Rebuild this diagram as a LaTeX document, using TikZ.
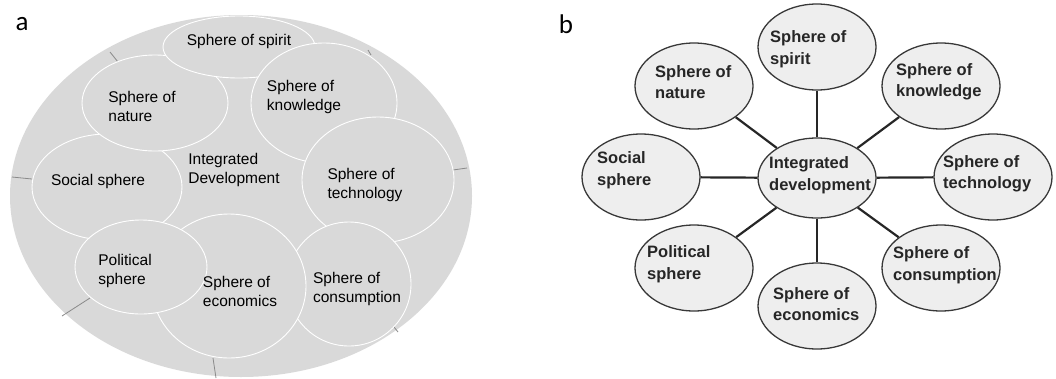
\documentclass[tikz,border=0pt]{standalone}
\usepackage{fontspec}
\setmainfont{Liberation Sans}
\newfontfamily\tagfont{Carlito}
\usetikzlibrary{positioning,shapes}
\definecolor{agray}{HTML}{D9D9D9}
\definecolor{bgray}{HTML}{EEEEEE}
\definecolor{tickgray}{HTML}{8A8A8A}
\tikzstyle{ring}=[ellipse,fill=agray,draw=white,line width=0.9pt,inner sep=0pt]
\tikzstyle{bubble}=[ellipse,fill=bgray,draw=black!78,line width=1.3pt,inner sep=0pt]
\tikzstyle{atext}=[align=left,inner sep=0pt,text=black,font=\fontsize{15.5}{19}\selectfont]
\tikzstyle{btext}=[align=left,inner sep=0pt,text=black!85,font=\fontsize{16.5}{21.5}\selectfont\bfseries]
\tikzstyle{tag}=[inner sep=0pt,font=\tagfont\fontsize{27}{30}\selectfont]
\tikzstyle{spoke}=[draw=black!85,line width=2.2pt]
\newcommand{\newRing}[4]{\node[ring,minimum width=#3,minimum height=#4](#1) at (#2) {};}
\newcommand{\newBubble}[2]{\node[bubble,minimum width=118pt,minimum height=86pt](#1) at (#2) {};}
\newcommand{\newSpoke}[2]{\path[spoke] (#1) -- (#2);}

\begin{document}
\begin{tikzpicture}[x=1pt,y=-1pt]
      \useasboundingbox (0,0) rectangle (1056,378);
      % a: nested spheres
      \node[tag] (taga) at (22,24) {a};
      \node[ellipse,fill=agray,minimum width=462pt,minimum height=362pt,inner sep=0pt] (whole) at (241,196) {};
      \path[draw=tickgray,line width=0.8pt] (110,52) -- (118,62);
      \path[draw=tickgray,line width=0.8pt] (368,50) -- (371,55);
      \path[draw=tickgray,line width=0.8pt] (12,177) -- (32,179);
      \path[draw=tickgray,line width=0.8pt] (453,170) -- (467,168);
      \path[draw=tickgray,line width=0.8pt] (62,316) -- (90,298);
      \path[draw=tickgray,line width=0.8pt] (213,358) -- (216,378);
      \path[draw=tickgray,line width=0.8pt] (390,322) -- (398,332);
      \newRing{asocial}{107,187}{150pt}{106pt}
      \newRing{anature}{155,103}{146pt}{96pt}
      \newRing{aspirit}{239,47}{152pt}{62pt}
      \newRing{aknow}{324,103}{146pt}{120pt}
      \newRing{atech}{378,180}{152pt}{126pt}
      \newRing{acons}{349,284}{124pt}{124pt}
      \newRing{aecon}{229,286}{154pt}{144pt}
      \newRing{apol}{141,267}{132pt}{94pt}
      \node[atext] (aspirit-t) at (239,41) {Sphere of spirit};
      \node[atext] (anature-t) at (142,106) {Sphere of\\nature};
      \node[atext] (aknow-t) at (304,97) {Sphere of\\knowledge};
      \node[atext] (asocial-t) at (98,181) {Social sphere};
      \node[atext] (acenter-t) at (234,170) {Integrated\\Development};
      \node[atext] (atech-t) at (365,185) {Sphere of\\technology};
      \node[atext] (apol-t) at (125,271) {Political\\sphere};
      \node[atext] (aecon-t) at (240,291) {Sphere of\\economics};
      \node[atext] (acons-t) at (357,289) {Sphere of\\consumption};
      % b: star of spheres
      \node[tag] (tagb) at (566,24) {b};
      \node[bubble,minimum width=118pt,minimum height=80pt] (bcenter) at (817,178) {};
      \newBubble{bspirit}{817,47}
      \newBubble{bnature}{694,86}
      \newBubble{bknow}{941,86}
      \newBubble{bsocial}{641,177}
      \newBubble{btech}{993,177}
      \newBubble{bpol}{694,268}
      \newBubble{becon}{817,306}
      \newBubble{bcons}{941,268}
      \newSpoke{bcenter}{bspirit}
      \newSpoke{bcenter}{bnature}
      \newSpoke{bcenter}{bknow}
      \newSpoke{bcenter}{bsocial}
      \newSpoke{bcenter}{btech}
      \newSpoke{bcenter}{bpol}
      \newSpoke{bcenter}{becon}
      \newSpoke{bcenter}{bcons}
      \node[btext,anchor=west] (bspirit-t) at (770,49) {Sphere of\\spirit};
      \node[btext,anchor=west] (bnature-t) at (655,82) {Sphere of\\nature};
      \node[btext,anchor=west] (bknow-t) at (896,82) {Sphere of\\knowledge};
      \node[btext,anchor=west] (bsocial-t) at (597,170) {Social\\sphere};
      \node[btext,anchor=west] (bcenter-t) at (769,175) {Integrated\\development};
      \node[btext,anchor=west] (btech-t) at (943,174) {Sphere of\\technology};
      \node[btext,anchor=west] (bpol-t) at (647,264) {Political\\sphere};
      \node[btext,anchor=west] (becon-t) at (773,304) {Sphere of\\economics};
      \node[btext,anchor=west] (bcons-t) at (893,265) {Sphere of\\consumption};
\end{tikzpicture}
\end{document}
